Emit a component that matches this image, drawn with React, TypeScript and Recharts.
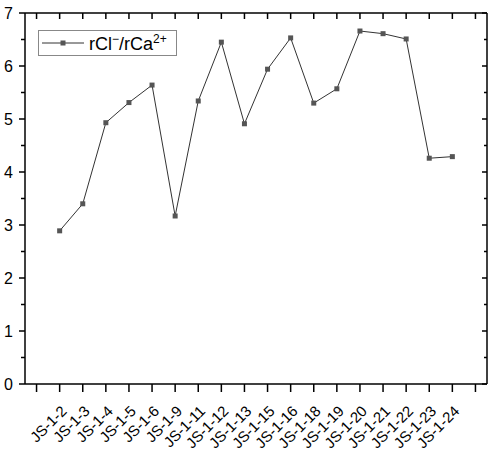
import { Legend, Line, LineChart, XAxis, YAxis } from "recharts";

const samples = [
  "JS-1-2", "JS-1-3", "JS-1-4", "JS-1-5", "JS-1-6", "JS-1-9", "JS-1-11", "JS-1-12", "JS-1-13",
  "JS-1-15", "JS-1-16", "JS-1-18", "JS-1-19", "JS-1-20", "JS-1-21", "JS-1-22", "JS-1-23", "JS-1-24",
];
const ratio = [
  2.89, 3.4, 4.93, 5.31, 5.64, 3.17, 5.34, 6.45, 4.91,
  5.94, 6.53, 5.3, 5.57, 6.66, 6.61, 6.51, 4.26, 4.29,
];
const xTicks = Array.from({ length: 20 }, (_, i) => i);
const yTicks = [0, 0.5, 1, 1.5, 2, 2.5, 3, 3.5, 4, 4.5, 5, 5.5, 6, 6.5, 7];

const data = samples.map((name, i) => ({ idx: i + 1, name, ratio: ratio[i] }));

const FONT = "'Liberation Sans', Arial, sans-serif";

function BottomTick({ x, y, payload }: any) {
  const label = samples[payload.value - 1];
  return (
    <g>
      <line x1={x} y1={y} x2={x} y2={y + 8} stroke="#000" strokeWidth={1.5} />
      {label && (
        <text
          x={x + 8}
          y={y + 28}
          transform={`rotate(-45, ${x + 8}, ${y + 28})`}
          textAnchor="end"
          fontSize={15}
          fontFamily={FONT}
          fill="#000"
        >
          {label}
        </text>
      )}
    </g>
  );
}

function TopTick({ x, y }: any) {
  return <line x1={x} y1={y} x2={x} y2={y + 6} stroke="#000" strokeWidth={1.5} />;
}

function LeftTick({ x, y, payload }: any) {
  const major = Number.isInteger(payload.value);
  return (
    <g>
      <line x1={x - (major ? 6 : 4)} y1={y} x2={x} y2={y} stroke="#000" strokeWidth={1.5} />
      {major && (
        <text x={x - 12} y={y + 6} textAnchor="end" fontSize={16} fontFamily={FONT} fill="#000">
          {payload.value}
        </text>
      )}
    </g>
  );
}

function RightTick({ x, y, payload }: any) {
  const major = Number.isInteger(payload.value);
  return <line x1={x - (major ? 5 : 3)} y1={y} x2={x} y2={y} stroke="#000" strokeWidth={1.5} />;
}

function SquareDot({ cx, cy, index }: any) {
  return <rect key={index} x={cx - 2.5} y={cy - 2.5} width={5} height={5} fill="#555" />;
}

function LegendBox() {
  return (
    <div
      style={{
        width: 139,
        height: 26,
        border: "1px solid #888",
        background: "#fff",
        display: "flex",
        alignItems: "center",
        fontFamily: FONT,
        fontSize: 18,
        color: "#000",
        boxSizing: "border-box",
      }}
    >
      <svg width={50} height={26} style={{ flex: "none" }}>
        <line x1={3} y1={13} x2={45} y2={13} stroke="#333" strokeWidth={1} />
        <rect x={21.5} y={10.5} width={5} height={5} fill="#555" />
      </svg>
      <span style={{ whiteSpace: "nowrap", lineHeight: 1 }}>
        rCl<sup style={{ fontSize: 12 }}>−</sup>/rCa<sup style={{ fontSize: 12 }}>2+</sup>
      </span>
    </div>
  );
}

export default function App() {
  return (
    <div style={{ position: "absolute", left: 0, top: 0, background: "#fff" }}>
      <LineChart width={491} height={455} data={data} margin={{ top: 0, right: 0, left: 0, bottom: 0 }}>
        <XAxis
          dataKey="idx"
          type="number"
          domain={[-0.5, 19.5]}
          ticks={xTicks}
          interval={0}
          height={71}
          tickSize={0}
          tickMargin={0}
          tickLine={false}
          axisLine={{ stroke: "#000", strokeWidth: 1.5 }}
          tick={<BottomTick />}
        />
        <XAxis
          xAxisId="top"
          orientation="top"
          dataKey="idx"
          type="number"
          domain={[-0.5, 19.5]}
          ticks={xTicks}
          interval={0}
          height={13}
          tickSize={0}
          tickMargin={0}
          tickLine={false}
          axisLine={{ stroke: "#000", strokeWidth: 1.5 }}
          tick={<TopTick />}
        />
        <YAxis
          type="number"
          domain={[0, 7]}
          ticks={yTicks}
          interval={0}
          width={25}
          tickSize={0}
          tickMargin={0}
          tickLine={false}
          axisLine={{ stroke: "#000", strokeWidth: 1.5 }}
          tick={<LeftTick />}
        />
        <YAxis
          yAxisId="right"
          orientation="right"
          type="number"
          domain={[0, 7]}
          ticks={yTicks}
          interval={0}
          width={4}
          tickSize={0}
          tickMargin={0}
          tickLine={false}
          axisLine={{ stroke: "#000", strokeWidth: 1.5 }}
          tick={<RightTick />}
        />
        <Legend
          layout="vertical"
          align="center"
          verticalAlign="middle"
          content={<LegendBox />}
          wrapperStyle={{ left: 38, top: 30, width: "auto", height: "auto" }}
        />
        <Line
          dataKey="ratio"
          stroke="#333"
          strokeWidth={1}
          dot={<SquareDot />}
          activeDot={false}
          isAnimationActive={false}
        />
        <Line
          xAxisId="top"
          yAxisId="right"
          dataKey="ratio"
          stroke="none"
          dot={false}
          activeDot={false}
          legendType="none"
          isAnimationActive={false}
        />
      </LineChart>
    </div>
  );
}
